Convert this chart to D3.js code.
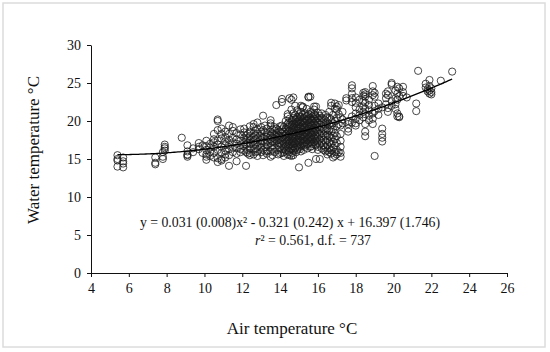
<!DOCTYPE html>
<html>
<head>
<meta charset="utf-8">
<script src="https://cdn.jsdelivr.net/npm/d3@7"></script>
<style>
  body { margin: 0; background: #fff; }
  svg text { font-family: "Liberation Serif", "DejaVu Serif", serif; fill: #111; }
</style>
</head>
<body>
<div id="chart"></div>
<script>
// air temperature columns (x) and the water temperatures read at each one
var airCols = [5.4, 5.7, 7.4, 7.8, 7.9, 8.8, 9.1, 9.4, 9.7, 9.9,
    10.1, 10.3, 10.5, 10.7, 10.9, 11.1, 11.3, 11.5, 11.7, 11.9,
    12.1, 12.2, 12.4, 12.6, 12.8, 13.0, 13.1, 13.3, 13.5, 13.7,
    13.8, 13.9, 14.1, 14.2, 14.3, 14.4, 14.5, 14.6, 14.7, 14.8,
    14.9, 15.0, 15.1, 15.2, 15.3, 15.4, 15.5, 15.6, 15.7, 15.8,
    15.9, 16.0, 16.1, 16.2, 16.4, 16.5, 16.7, 16.8, 16.9, 17.0,
    17.1, 17.3, 17.5, 17.6, 17.8, 18.0, 18.2, 18.4, 18.5, 18.7,
    18.9, 19.0, 19.2, 19.4, 19.6, 19.7, 19.9, 20.1, 20.2, 20.3,
    20.5, 20.7, 21.2, 21.3, 21.7, 21.8, 21.9, 22.0, 22.5, 23.1,
    12.3, 12.7, 13.2, 13.6, 14.0, 14.45, 14.65, 14.85, 15.05, 15.25,
    15.45, 15.65, 15.85, 16.3, 16.6, 17.2];
var waterCols = [
    [15.5, 15.0, 14.8, 14.0],
    [15.2, 14.7, 14.4, 13.9],
    [15.2, 14.5, 14.3],
    [15.3, 15.0, 15.9],
    [16.9, 16.6, 16.4, 16.1],
    [17.8],
    [16.8, 16.0, 15.6, 15.3, 15.5],
    [15.9, 16.4],
    [17.1, 16.6, 16.3],
    [16.8, 15.8],
    [17.4, 16.7, 16.2, 15.6, 15.3, 14.9],
    [17.0, 16.5, 15.9, 15.4],
    [18.3, 17.6, 17.2, 16.6, 15.8, 15.2],
    [20.2, 20.0, 18.8, 17.4, 16.9, 16.2, 15.1, 14.6],
    [19.0, 18.3, 17.7, 16.6, 15.8, 15.0, 14.8],
    [18.6, 17.9, 17.3, 16.8, 16.1, 15.6, 15.2],
    [19.4, 18.3, 17.5, 16.9, 16.3, 15.5, 14.1],
    [19.2, 18.7, 17.8, 17.2, 16.5, 15.9],
    [18.4, 17.6, 17.0, 16.4, 15.7, 14.7],
    [18.9, 18.2, 17.4, 16.8, 16.3, 15.9],
    [19.0, 18.5, 17.8, 17.2, 16.7, 16.1],
    [18.1, 17.5, 16.9, 15.9, 14.1],
    [19.3, 18.6, 18.0, 17.5, 17.0, 16.4, 15.8, 15.5],
    [19.6, 19.2, 18.4, 17.9, 17.4, 16.9, 16.3, 15.6],
    [19.8, 18.9, 18.3, 17.7, 17.2, 16.6, 16.0, 15.4],
    [19.2, 18.6, 18.0, 17.5, 17.0, 16.5, 15.9],
    [20.7, 18.8, 17.8, 17.3, 16.2, 15.5],
    [19.0, 18.4, 17.9, 17.4, 16.8, 16.1, 15.7],
    [20.1, 19.7, 19.4, 18.6, 18.1, 17.6, 17.1, 16.6, 16.0, 15.3],
    [19.2, 18.7, 18.2, 17.7, 17.2, 16.5, 15.9],
    [22.1, 19.0, 18.4, 17.9, 17.4],
    [18.8, 18.1, 17.5, 16.8, 16.2, 15.6],
    [22.9, 22.5, 19.4, 18.9, 18.4, 17.9, 17.4, 16.9, 16.3, 15.8],
    [19.2, 18.6, 18.1, 17.6, 17.0, 16.5, 15.9, 15.4],
    [20.0, 19.0, 18.3, 17.8, 17.2, 16.7, 16.1],
    [20.9, 20.6, 19.6, 18.9, 18.4, 17.9, 17.3, 16.6, 15.6],
    [23.0, 20.3, 19.5, 18.7, 18.2, 17.6, 17.0, 16.4, 15.9, 15.5],
    [22.8, 21.5, 19.9, 19.3, 18.6, 18.0, 17.5, 16.9, 16.3, 15.4],
    [23.1, 21.0, 20.4, 19.7, 19.1, 18.5, 17.9, 17.3, 16.7, 16.1, 15.5],
    [22.0, 20.8, 20.2, 19.6, 19.0, 18.3, 17.7, 17.1, 16.4],
    [21.4, 20.5, 19.9, 19.3, 18.7, 18.1, 17.5, 16.8, 16.2],
    [20.9, 20.2, 19.6, 19.0, 18.4, 17.8, 17.2, 16.5, 13.9],
    [22.0, 21.2, 20.5, 19.8, 19.2, 18.6, 18.0, 17.4, 16.7, 16.0],
    [21.9, 21.8, 20.8, 20.0, 19.4, 18.8, 18.2, 17.6, 17.0],
    [21.0, 20.3, 19.7, 19.1, 18.5, 17.9, 17.2, 16.6],
    [21.6, 20.6, 20.0, 19.3, 18.7, 18.1, 17.5, 16.9],
    [23.2, 23.1, 20.9, 20.2, 19.6, 19.0, 18.3, 17.7, 17.1, 14.5],
    [23.2, 21.2, 20.4, 19.8, 19.2, 18.6, 17.9, 17.3, 16.6],
    [20.6, 20.0, 19.4, 18.8, 18.2, 17.6, 17.0, 16.3],
    [21.9, 21.5, 20.9, 20.3, 19.7, 19.1, 18.5, 17.8, 17.2],
    [21.9, 20.6, 20.0, 19.4, 18.7, 18.0, 17.4, 16.8, 15.0],
    [21.1, 20.4, 19.8, 19.2, 18.5, 17.9, 17.3, 16.6, 16.2],
    [20.7, 20.1, 19.5, 18.9, 18.3, 17.6, 16.9, 15.0],
    [21.0, 20.4, 19.8, 19.1, 18.4, 17.8, 17.1, 16.4],
    [20.8, 20.1, 19.4, 18.7, 18.0, 17.3, 16.6, 16.0],
    [20.5, 19.8, 19.0, 18.2, 17.5, 16.8, 16.1, 15.6],
    [22.4, 22.0, 20.2, 19.4, 18.6, 17.8, 17.0, 16.2, 15.7],
    [20.8, 19.7, 18.9, 18.1, 17.3, 16.5, 15.2],
    [22.3, 21.6, 20.0, 18.4, 17.6, 16.8, 15.9, 15.4],
    [21.9, 21.5, 20.4, 19.3, 18.0, 17.1, 16.2, 15.6],
    [22.1, 20.9, 19.6, 15.9],
    [21.2, 20.2, 19.7],
    [23.0, 22.7],
    [19.6, 19.0, 18.6, 20.0],
    [24.7, 24.3, 23.6, 23.0, 22.5, 20.6, 19.8],
    [23.1, 22.4, 21.8, 21.0, 20.3, 19.7, 19.4],
    [22.8, 21.5, 20.8, 20.1],
    [23.7, 23.3, 22.6, 21.9, 21.2, 20.5],
    [23.8, 23.5, 23.2, 22.4, 21.6, 20.9, 19.6, 18.6, 18.0],
    [22.8, 22.1, 21.4, 20.7, 20.1],
    [24.6, 23.9, 23.4, 21.0, 20.3, 19.6],
    [23.7, 23.2, 22.0, 21.3, 15.4],
    [22.3, 21.6, 20.8],
    [19.0, 18.3, 17.8, 17.3, 21.8],
    [23.6, 23.0, 22.2],
    [23.9, 23.4, 21.7, 21.2],
    [25.0, 24.8, 22.6, 22.0],
    [24.0, 23.0, 22.2, 21.6],
    [24.5, 23.6, 22.8, 21.0, 20.6],
    [24.3, 23.3, 20.6, 20.5],
    [24.5, 23.8, 23.3],
    [23.1],
    [22.3, 21.3],
    [26.6],
    [24.9, 24.4],
    [24.2, 23.9],
    [25.4, 24.6, 24.0, 23.6],
    [24.3, 23.8, 23.5],
    [25.3],
    [26.5],
    [18.3, 17.7, 17.1, 16.2, 15.7],
    [18.7, 18.1, 17.6, 17.0, 16.4, 15.9],
    [19.4, 18.5, 17.9, 17.2, 16.6, 16.0],
    [18.9, 18.3, 17.8, 17.3, 16.8, 16.3, 15.5],
    [19.3, 18.6, 18.0, 17.5, 17.0, 16.4, 15.7],
    [19.8, 19.2, 18.6, 18.0, 17.4, 16.8, 16.1],
    [20.1, 19.5, 18.8, 18.2, 17.7, 17.1, 16.5, 15.8],
    [20.3, 19.7, 19.1, 18.5, 17.9, 17.3, 16.6, 15.9],
    [20.6, 19.9, 19.3, 18.7, 18.1, 17.5, 16.9, 16.3],
    [20.4, 19.8, 19.2, 18.6, 18.0, 17.4, 16.8, 16.2],
    [20.7, 20.1, 19.4, 18.8, 18.2, 17.6, 17.0, 16.4],
    [21.0, 20.2, 19.6, 19.0, 18.4, 17.8, 17.2, 16.7],
    [20.8, 20.2, 19.5, 18.9, 18.2, 17.6, 16.9],
    [20.3, 19.6, 18.9, 18.2, 17.5, 16.8, 16.2],
    [21.2, 20.4, 19.6, 18.8, 18.0, 17.2, 16.4, 15.9],
    [20.5, 19.4, 18.3, 17.4, 16.6, 15.8, 15.3]
];
// fitted quadratic: a x^2 + b x + c, drawn over the observed air range
var fitCoef = [0.031, -0.321, 16.397];
var fitRange = [5.4, 23.1];
var xTicks = [4, 6, 8, 10, 12, 14, 16, 18, 20, 22, 24, 26];
var yTicks = [0, 5, 10, 15, 20, 25, 30];

var width = 550, height = 352;

var svg = d3.select("#chart")
    .append("svg")
    .attr("width", width)
    .attr("height", height);

// light frame round the whole figure
svg.append("rect")
    .attr("x", 3).attr("y", 3)
    .attr("width", 542).attr("height", 344)
    .attr("fill", "none")
    .attr("stroke", "#dcdcdc")
    .attr("stroke-width", 1.5);

var x = d3.scaleLinear().domain([4, 26]).range([91, 507]);
var y = d3.scaleLinear().domain([0, 30]).range([273, 45]);

// points
var points = [];
airCols.forEach(function (a, i) {
    waterCols[i].forEach(function (w) { points.push([a, w]); });
});

svg.append("g")
    .selectAll("circle")
    .data(points)
    .enter()
    .append("circle")
    .attr("cx", function (d) { return x(d[0]); })
    .attr("cy", function (d) { return y(d[1]); })
    .attr("r", 3.6)
    .attr("fill", "none")
    .attr("stroke", "#1a1a1a")
    .attr("stroke-width", 0.8);

// trend line
var fitPts = [];
for (var t = fitRange[0]; t <= fitRange[1] + 1e-9; t += 0.1) {
    fitPts.push([t, fitCoef[0] * t * t + fitCoef[1] * t + fitCoef[2]]);
}
svg.append("path")
    .datum(fitPts)
    .attr("fill", "none")
    .attr("stroke", "#000")
    .attr("stroke-width", 1.3)
    .attr("d", d3.line()
        .x(function (d) { return x(d[0]); })
        .y(function (d) { return y(d[1]); }));

// axes
var xAxis = svg.append("g")
    .attr("transform", "translate(0," + y(0) + ")")
    .call(d3.axisBottom(x).tickValues(xTicks).tickSize(4).tickPadding(6).tickSizeOuter(0));
var yAxis = svg.append("g")
    .attr("transform", "translate(" + x(4) + ",0)")
    .call(d3.axisLeft(y).tickValues(yTicks).tickSize(4).tickPadding(6).tickSizeOuter(0));

[xAxis, yAxis].forEach(function (g) {
    g.select(".domain").attr("stroke", "#111").attr("stroke-width", 1);
    g.selectAll(".tick line").attr("stroke", "#111");
    g.selectAll(".tick text")
        .attr("font-family", "Liberation Serif, serif")
        .attr("font-size", 14)
        .attr("fill", "#111");
});

// equation
svg.append("text")
    .attr("x", 290).attr("y", 227)
    .attr("text-anchor", "middle")
    .attr("font-size", 13.8)
    .text("y = 0.031 (0.008)x\u00B2 - 0.321 (0.242) x + 16.397 (1.746)");
var r2 = svg.append("text")
    .attr("x", 313).attr("y", 245)
    .attr("text-anchor", "middle")
    .attr("font-size", 13.8);
r2.append("tspan").attr("font-style", "italic").text("r");
r2.append("tspan").text("\u00B2 = 0.561, d.f. = 737");

// axis titles
svg.append("text")
    .attr("x", 292).attr("y", 334)
    .attr("text-anchor", "middle")
    .attr("font-size", 17)
    .text("Air temperature \u00B0C");
svg.append("text")
    .attr("transform", "translate(39,150) rotate(-90)")
    .attr("text-anchor", "middle")
    .attr("font-size", 17)
    .text("Water temperature \u00B0C");
</script>
</body>
</html>
